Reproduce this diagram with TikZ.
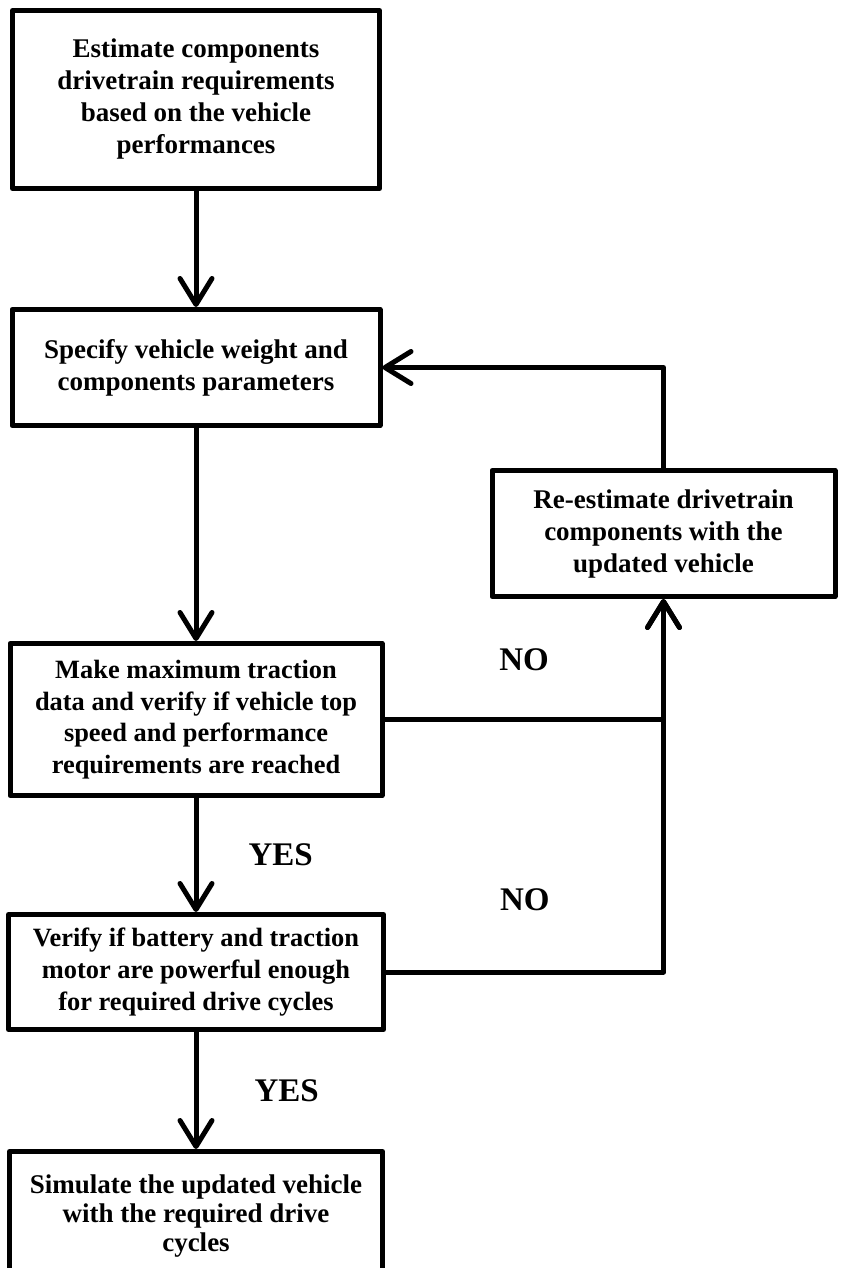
\documentclass[tikz,border=0pt]{standalone}
\usepackage{fontspec}
\setmainfont{Liberation Serif}
\usetikzlibrary{arrows.meta,positioning}

\begin{document}
\begin{tikzpicture}[>={Straight Barb[length=13pt,width=16pt,round]},
    line width=2.5pt,line join=round,node distance=58pt,
    box/.style={rectangle,draw,align=center,inner sep=2pt,font=\bfseries\fontsize{13.5}{16}\selectfont},
    answer/.style={inner sep=0pt,font=\bfseries\fontsize{16.5}{18}\selectfont}]

  \clip (0,0) rectangle (422.5pt,-634pt);

  \node[box,minimum width=183.5pt,minimum height=89pt] (estimate) at (98pt,-49.75pt)
    {Estimate components\\drivetrain requirements\\based on the vehicle\\performances};
  \node[box,minimum width=184pt,minimum height=58pt] (specify) [below=of estimate]
    {Specify vehicle weight and\\components parameters};
  \node[box,minimum width=171.5pt,minimum height=63pt] (reestimate) [below right=20pt and 53.5pt of specify.south east]
    {Re-estimate drivetrain\\components with the\\updated vehicle};
  \node[box,minimum width=186pt,minimum height=76pt,font=\bfseries\fontsize{13.2}{15.8}\selectfont] (traction) [below=106.5pt of specify]
    {Make maximum traction\\data and verify if vehicle top\\speed and performance\\requirements are reached};
  \node[box,minimum width=187.5pt,minimum height=57.5pt,font=\bfseries\fontsize{13.2}{16}\selectfont] (verify) [below=57pt of traction]
    {Verify if battery and traction\\motor are powerful enough\\for required drive cycles};
  \node[box,minimum width=186.5pt,minimum height=65pt,font=\bfseries\fontsize{13.5}{14.5}\selectfont] (simulate) [below=58.5pt of verify]
    {Simulate the updated vehicle\\with the required drive\\cycles};

  \draw[->] (estimate) -- (specify);
  \draw[->] (specify) -- (traction);
  \draw[->] (traction) -- node[answer,right=25pt] {YES} (verify);
  \draw[->] (verify) -- node[answer,right=28pt] {YES} (simulate);
  \draw[->] (traction) -| node[answer,pos=0.25,above=23pt] {NO} (reestimate);
  \draw[->] (verify) -| node[answer,pos=0.25,above=29.5pt] {NO} (reestimate);
  \draw[->] (reestimate) |- (specify);

\end{tikzpicture}
\end{document}
